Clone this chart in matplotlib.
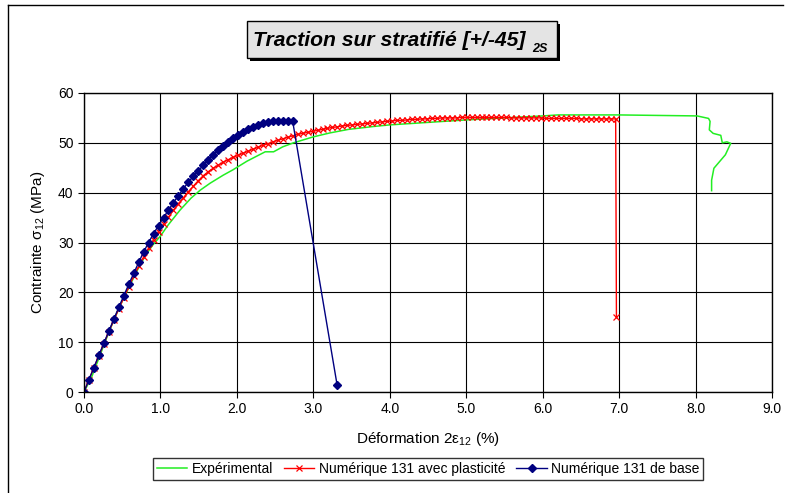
import matplotlib
matplotlib.use('Agg')
import matplotlib.pyplot as plt
from matplotlib.patches import Rectangle
from matplotlib.lines import Line2D

plt.rcParams['font.family'] = ['Liberation Sans', 'DejaVu Sans']
plt.rcParams['mathtext.fontset'] = 'custom'
plt.rcParams['mathtext.rm'] = 'Liberation Sans'
plt.rcParams['mathtext.it'] = 'Liberation Sans:italic'

# experimental curve
exp_strain = [0.0, 0.1, 0.2, 0.3, 0.4, 0.5, 0.6, 0.7, 0.8, 0.9,
              1.0, 1.1, 1.256, 1.4, 1.52, 1.65, 1.82, 1.95, 2.13, 2.37,
              2.48, 2.6, 2.74, 3.0, 3.22, 3.46, 3.8, 4.0, 4.5, 5.0,
              5.5, 6.0, 6.2, 6.5, 7.0, 7.5, 8.02, 8.17, 8.19, 8.18,
              8.23, 8.33, 8.35, 8.41, 8.46, 8.39, 8.24, 8.21, 8.21]
exp_stress = [0.0, 3.0, 7.0, 11.0, 14.8, 18.2, 21.4, 24.5, 27.3, 29.5,
              31.3, 33.5, 36.5, 38.9, 40.5, 41.9, 43.5, 44.6, 46.3, 48.2,
              48.2, 49.2, 50.0, 51.2, 52.0, 52.7, 53.3, 53.6, 54.1, 54.6,
              55.0, 55.4, 55.6, 55.6, 55.6, 55.5, 55.4, 54.9, 54.3, 52.6,
              51.9, 51.5, 50.0, 50.2, 49.9, 47.6, 44.9, 42.5, 40.4]

# numerique avec plasticite
plast_strain = [0.0, 0.065, 0.13, 0.195, 0.26, 0.325, 0.39, 0.455, 0.52, 0.585,
                0.65, 0.715, 0.78, 0.845, 0.91, 0.975, 1.04, 1.105, 1.17, 1.235,
                1.3, 1.365, 1.43, 1.495, 1.56, 1.625, 1.69, 1.755, 1.82, 1.885,
                1.95, 2.015, 2.08, 2.145, 2.21, 2.275, 2.34, 2.405, 2.47, 2.535,
                2.6, 2.665, 2.73, 2.795, 2.86, 2.925, 2.99, 3.055, 3.12, 3.185,
                3.25, 3.315, 3.38, 3.445, 3.51, 3.575, 3.64, 3.705, 3.77, 3.835,
                3.9, 3.965, 4.03, 4.095, 4.16, 4.225, 4.29, 4.355, 4.42, 4.485,
                4.55, 4.615, 4.68, 4.745, 4.81, 4.875, 4.94, 5.005, 5.07, 5.135,
                5.2, 5.265, 5.33, 5.395, 5.46, 5.525, 5.59, 5.655, 5.72, 5.785,
                5.85, 5.915, 5.98, 6.045, 6.11, 6.175, 6.24, 6.305, 6.37, 6.435,
                6.5, 6.565, 6.63, 6.695, 6.76, 6.825, 6.89, 6.955, 6.965]
plast_stress = [0.0, 2.5, 4.9, 7.3, 9.7, 12.1, 14.4, 16.7, 18.9, 21.1,
                23.2, 25.2, 27.1, 28.9, 30.6, 32.2, 33.7, 35.1, 36.5, 37.8,
                39.0, 40.2, 41.3, 42.4, 43.4, 44.2, 44.9, 45.5, 46.1, 46.6,
                47.1, 47.5, 47.9, 48.3, 48.7, 49.1, 49.5, 49.8, 50.2, 50.5,
                50.8, 51.1, 51.4, 51.7, 51.9, 52.1, 52.3, 52.5, 52.7, 52.9,
                53.1, 53.2, 53.4, 53.5, 53.6, 53.7, 53.8, 53.9, 54.0, 54.1,
                54.2, 54.3, 54.4, 54.5, 54.5, 54.6, 54.7, 54.7, 54.8, 54.8,
                54.9, 54.9, 55.0, 55.0, 55.0, 55.0, 55.1, 55.1, 55.1, 55.1,
                55.1, 55.1, 55.1, 55.1, 55.1, 55.1, 55.0, 55.0, 55.0, 55.0,
                55.0, 55.0, 55.0, 54.9, 54.9, 54.9, 54.9, 54.9, 54.9, 54.9,
                54.8, 54.8, 54.8, 54.8, 54.8, 54.8, 54.8, 54.8, 15.0]

# numerique de base
base_strain = [0.0, 0.065, 0.13, 0.195, 0.26, 0.325, 0.39, 0.455, 0.52, 0.585,
               0.65, 0.715, 0.78, 0.845, 0.91, 0.975, 1.04, 1.105, 1.17, 1.235,
               1.3, 1.365, 1.43, 1.495, 1.56, 1.625, 1.69, 1.755, 1.82, 1.885,
               1.95, 2.015, 2.08, 2.145, 2.21, 2.275, 2.34, 2.405, 2.47, 2.535,
               2.6, 2.665, 2.73, 3.31]
base_stress = [0.0, 2.5, 4.9, 7.4, 9.8, 12.2, 14.6, 17.0, 19.3, 21.6,
               23.8, 26.0, 28.1, 30.0, 31.8, 33.4, 35.0, 36.5, 38.0, 39.4,
               40.8, 42.1, 43.3, 44.4, 45.5, 46.6, 47.6, 48.5, 49.4, 50.2,
               51.0, 51.6, 52.2, 52.7, 53.2, 53.6, 53.9, 54.1, 54.3, 54.4,
               54.4, 54.4, 54.3, 1.5]

xticks = [0, 1, 2, 3, 4, 5, 6, 7, 8, 9]
yticks = [0, 10, 20, 30, 40, 50, 60]

W, H = 787, 493
fig = plt.figure(figsize=(W / 100, H / 100), dpi=100)


def fx(px):
    return px / W


def fy(py):
    return 1 - py / H


ax = fig.add_axes([fx(84), fy(392), fx(772) - fx(84), fy(93) - fy(392)])

ax.plot(exp_strain, exp_stress, color='#22ee22', lw=1.1, label='Expérimental')
ax.plot(plast_strain, plast_stress, color='#ff0000', lw=1.0, marker='x',
        markersize=4, markeredgewidth=0.9, label='Numérique 131 avec plasticité')
ax.plot(base_strain, base_stress, color='#000080', lw=1.0, marker='D',
        markersize=4, label='Numérique 131 de base')

ax.set_xlim(0, 9)
ax.set_ylim(0, 60)
ax.set_xticks(xticks)
ax.set_xticklabels(['%.1f' % t for t in xticks])
ax.set_yticks(yticks)
ax.grid(True, color='black', lw=0.8)
ax.set_axisbelow(True)
ax.tick_params(direction='out', length=4, labelsize=10, color='black')
for s in ax.spines.values():
    s.set_linewidth(1.0)

ax.set_xlabel('Déformation 2ε$_{12}$ (%)', fontsize=11, labelpad=10)
ax.set_ylabel('Contrainte σ$_{12}$ (MPa)', fontsize=11, labelpad=8)

leg = ax.legend(loc='upper center', bbox_to_anchor=(0.5, -0.22), ncol=3,
                fontsize=10, frameon=True, fancybox=False, handlelength=2.2,
                handletextpad=0.3, columnspacing=0.8, borderpad=0.3,
                borderaxespad=0)
leg.get_frame().set_edgecolor('black')
leg.get_frame().set_linewidth(1.0)

# title box with shadow
fig.patches.append(Rectangle((fx(250), fy(61)), fx(560) - fx(250), fy(24) - fy(61),
                             transform=fig.transFigure, facecolor='black',
                             edgecolor='none', zorder=1))
fig.patches.append(Rectangle((fx(247), fy(58)), fx(557) - fx(247), fy(21) - fy(58),
                             transform=fig.transFigure, facecolor='#e4e4e4',
                             edgecolor='black', lw=1.0, zorder=2))
fig.text(fx(253), fy(40), 'Traction sur stratifié [+/-45]', fontsize=15.2,
         fontweight='bold', fontstyle='italic', va='center', ha='left', zorder=3)
fig.text(fx(532), fy(52), '2S', fontsize=9, fontweight='bold',
         fontstyle='italic', va='baseline', ha='left', zorder=3)

# frame of the chart area
fig.add_artist(Line2D([fx(8), fx(783)], [fy(5), fy(5)], color='black', lw=1.0))
fig.add_artist(Line2D([fx(8), fx(8)], [fy(5), fy(493)], color='black', lw=1.0))

fig.savefig('out.png', dpi=100)
